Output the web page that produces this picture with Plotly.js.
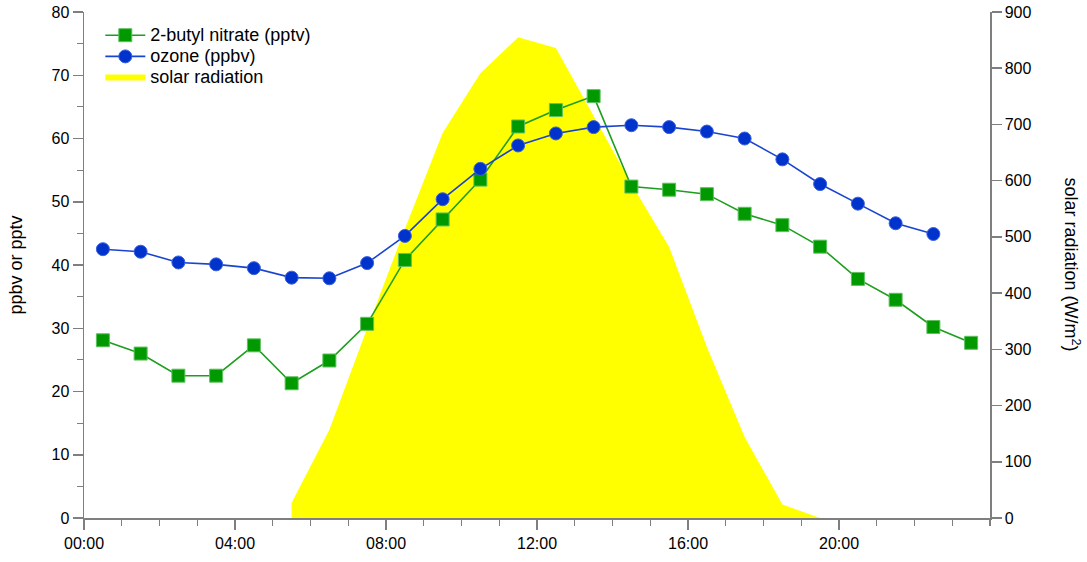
<!DOCTYPE html>
<html>
<head>
<meta charset="utf-8">
<script src="https://cdn.plot.ly/plotly-3.0.1.min.js"></script>
<style>html,body{margin:0;padding:0;background:#fff;} #chart{width:1087px;height:562px;}</style>
</head>
<body>
<div id="chart"></div>
<script>
const hours = [0.5,1.5,2.5,3.5,4.5,5.5,6.5,7.5,8.5,9.5,10.5,11.5,12.5,13.5,14.5,15.5,16.5,17.5,18.5,19.5,20.5,21.5,22.5,23.5];
const butylNitrate = [28.1,26.0,22.5,22.5,27.3,21.3,24.9,30.7,40.8,47.2,53.5,61.9,64.5,66.7,52.4,51.9,51.2,48.1,46.3,42.9,37.8,34.5,30.2,27.7];
const ozoneHours = [0.5,1.5,2.5,3.5,4.5,5.5,6.5,7.5,8.5,9.5,10.5,11.5,12.5,13.5,14.5,15.5,16.5,17.5,18.5,19.5,20.5,21.5,22.5];
const ozone = [42.5,42.1,40.4,40.1,39.5,38.0,37.9,40.3,44.6,50.4,55.2,58.9,60.8,61.8,62.1,61.8,61.1,60.0,56.7,52.8,49.7,46.6,44.9];
const solarHours = [5.5,6.5,7.5,8.5,9.5,10.5,11.5,12.5,13.5,14.5,15.5,16.5,17.5,18.5,19.5];
const solar = [27,157,337,514,685,791,855,836,715,594,482,304,144,24,0];
const xTickVals = [0,4,8,12,16,20];
const xTickText = ["00:00","04:00","08:00","12:00","16:00","20:00"];

const FONT = "Liberation Sans, Arial, sans-serif";
const AX = "#7f7f7f";
const big = s => '<span style="font-size:18px">' + s + '</span>';

const traces = [
  {x: solarHours, y: solar, type: "scatter", mode: "none", fill: "tozeroy",
   fillcolor: "#ffff00", name: big("solar radiation"), yaxis: "y", legendrank: 3},
  {x: hours, y: butylNitrate, type: "scatter", mode: "lines+markers", name: big("2-butyl nitrate (pptv)"),
   line: {color: "#1e9e1e", width: 1.6},
   marker: {symbol: "square", size: 13, color: "#009900", line: {color: "#5fc05f", width: 1}},
   yaxis: "y2", legendrank: 1},
  {x: ozoneHours, y: ozone, type: "scatter", mode: "lines+markers", name: big("ozone (ppbv)"),
   line: {color: "#1a44d0", width: 1.6},
   marker: {symbol: "circle", size: 13, color: "#0033cc", line: {color: "#3b5fe0", width: 1}},
   yaxis: "y2", legendrank: 2}
];

const layout = {
  width: 1087, height: 562,
  margin: {l: 84, r: 97, t: 12, b: 44},
  paper_bgcolor: "#fff", plot_bgcolor: "rgba(0,0,0,0)",
  font: {family: FONT, size: 16, color: "#000"},
  showlegend: true,
  legend: {x: 0.018, y: 0.985, xanchor: "left", yanchor: "top", bgcolor: "rgba(0,0,0,0)",
           font: {family: FONT, size: 14}, tracegroupgap: 0, itemwidth: 40},
  xaxis: {range: [0, 24], showgrid: false, zeroline: false, showline: true, linecolor: AX, linewidth: 1.5,
          tickmode: "array", tickvals: xTickVals, ticktext: xTickText,
          ticks: "outside", ticklen: 10, tickcolor: AX, tickwidth: 1.5,
          minor: {dtick: 1, tick0: 0, ticks: "outside", ticklen: 6, tickcolor: AX, tickwidth: 1.2, showgrid: false},
          tickfont: {size: 16}},
  yaxis: {range: [0, 900], side: "right", showgrid: false, zeroline: false, showline: true, linecolor: AX, linewidth: 1.5,
          dtick: 100, ticks: "outside", ticklen: 10, tickcolor: AX, tickwidth: 1.5, tickfont: {size: 16}},
  yaxis2: {range: [0, 80], side: "left", overlaying: "y", showgrid: false, zeroline: false, showline: true,
           linecolor: AX, linewidth: 1.5, dtick: 10, ticks: "outside", ticklen: 10, tickcolor: AX, tickwidth: 1.5,
           minor: {dtick: 5, ticks: "outside", ticklen: 6, tickcolor: AX, tickwidth: 1.2, showgrid: false},
           tickfont: {size: 16},
           title: {text: "ppbv or pptv", font: {size: 18}, standoff: 24}},
  annotations: [
    {xref: "paper", yref: "paper", x: 1.091, y: 0.5, xanchor: "center", yanchor: "middle",
     text: "solar radiation (W/m<sup>2</sup>)", textangle: 90, showarrow: false, font: {size: 18}}
  ]
};

Plotly.newPlot("chart", traces, layout, {displayModeBar: false, staticPlot: true});
</script>
</body>
</html>
